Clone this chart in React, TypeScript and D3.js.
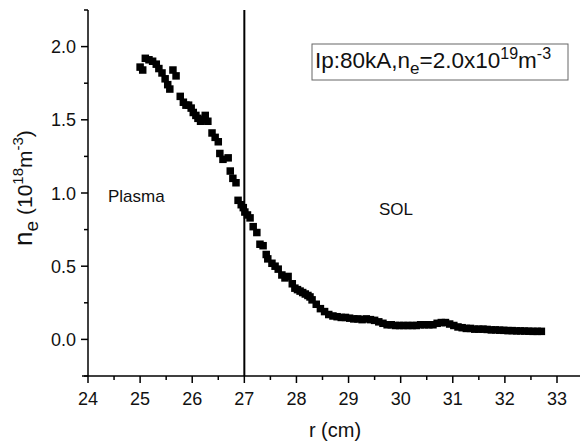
import React from "react";
import * as d3 from "d3";

const rValues = [
  25.00, 25.05, 25.10, 25.17, 25.24, 25.31, 25.36, 25.42, 25.48, 25.53,
  25.57, 25.63, 25.69, 25.77, 25.83, 25.88, 25.93, 25.98, 26.02, 26.07,
  26.11, 26.16, 26.21, 26.25, 26.30, 26.38, 26.44, 26.50, 26.53, 26.59,
  26.69, 26.73, 26.78, 26.84, 26.88, 26.94, 26.98, 27.01, 27.06, 27.11,
  27.17, 27.24, 27.30, 27.36, 27.42, 27.45, 27.53, 27.59, 27.65, 27.72,
  27.78, 27.84, 27.92, 27.97, 28.02, 28.07, 28.12, 28.17, 28.22, 28.26,
  28.30, 28.38, 28.46, 28.54, 28.62, 28.70, 28.78, 28.86, 28.94, 29.02,
  29.10, 29.18, 29.26, 29.34, 29.42, 29.50, 29.58, 29.66, 29.74, 29.82,
  29.90, 29.98, 30.06, 30.14, 30.22, 30.30, 30.38, 30.46, 30.54, 30.62,
  30.70, 30.78, 30.86, 30.94, 31.02, 31.10, 31.18, 31.26, 31.34, 31.42,
  31.50, 31.58, 31.66, 31.74, 31.82, 31.90, 31.98, 32.06, 32.14, 32.22,
  32.30, 32.38, 32.46, 32.54, 32.62, 32.70,
];

const neValues = [
  1.86, 1.84, 1.92, 1.91, 1.90, 1.88, 1.85, 1.82, 1.78, 1.74,
  1.71, 1.84, 1.80, 1.66, 1.62, 1.60, 1.60, 1.58, 1.55, 1.53,
  1.51, 1.49, 1.50, 1.53, 1.49, 1.41, 1.38, 1.35, 1.27, 1.23,
  1.24, 1.15, 1.10, 1.07, 0.95, 0.92, 0.90, 0.87, 0.85, 0.83,
  0.77, 0.73, 0.65, 0.64, 0.58, 0.55, 0.52, 0.50, 0.48, 0.44,
  0.42, 0.43, 0.38, 0.35, 0.34, 0.33, 0.32, 0.31, 0.30, 0.29,
  0.27, 0.24, 0.21, 0.19, 0.17, 0.16, 0.155, 0.15, 0.15, 0.145,
  0.14, 0.14, 0.135, 0.14, 0.135, 0.13, 0.12, 0.11, 0.10, 0.10,
  0.095, 0.095, 0.095, 0.095, 0.095, 0.095, 0.10, 0.10, 0.10, 0.10,
  0.11, 0.115, 0.115, 0.105, 0.095, 0.085, 0.08, 0.075, 0.075, 0.07,
  0.07, 0.07, 0.068, 0.065, 0.065, 0.063, 0.062, 0.06, 0.06, 0.058,
  0.058, 0.057, 0.056, 0.055, 0.055, 0.055,
];

const xTicks = [24, 25, 26, 27, 28, 29, 30, 31, 32, 33];
const xMinor = [24.5, 25.5, 26.5, 27.5, 28.5, 29.5, 30.5, 31.5, 32.5, 33.5];
const yTicks = [0.0, 0.5, 1.0, 1.5, 2.0];
const yMinor = [-0.25, 0.25, 0.75, 1.25, 1.75, 2.25];
const boundaryR = 27;

const W = 580;
const H = 444;
const FONT = "'Liberation Sans', Arial, sans-serif";

export default function App() {
  const x = d3.scaleLinear().domain([24, 33]).range([88, 557]);
  const y = d3.scaleLinear().domain([-0.25, 2.25]).range([376, 10]);
  const x0 = x(24);
  const yb = y(-0.25);
  const size = 7.5;

  return (
    <svg
      width={W}
      height={H}
      style={{ position: "absolute", left: 0, top: 0, background: "#fff" }}
      fontFamily={FONT}
    >
      <rect width={W} height={H} fill="#fff" />
      {/* data markers */}
      {rValues.map((r, i) => (
        <rect
          key={i}
          x={x(r) - size / 2}
          y={y(neValues[i]) - size / 2}
          width={size}
          height={size}
          fill="#000"
        />
      ))}
      {/* boundary line */}
      <line x1={x(boundaryR)} x2={x(boundaryR)} y1={y(2.25)} y2={yb} stroke="#000" strokeWidth={2} />
      {/* axes */}
      <line x1={x0} x2={x0} y1={y(2.25)} y2={yb} stroke="#000" strokeWidth={1.5} />
      <line x1={x0 - 6} x2={580} y1={yb} y2={yb} stroke="#000" strokeWidth={1.5} />
      {xTicks.map((t) => (
        <g key={"xt" + t}>
          <line x1={x(t)} x2={x(t)} y1={yb} y2={yb + 7} stroke="#000" strokeWidth={1.5} />
          <text x={x(t)} y={yb + 29} textAnchor="middle" fontSize={18} fill="#111">
            {t}
          </text>
        </g>
      ))}
      {xMinor.map((t) => (
        <line key={"xm" + t} x1={x(t)} x2={x(t)} y1={yb} y2={yb + 4} stroke="#000" strokeWidth={1.5} />
      ))}
      {yTicks.map((t) => (
        <g key={"yt" + t}>
          <line x1={x0 - 7} x2={x0} y1={y(t)} y2={y(t)} stroke="#000" strokeWidth={1.5} />
          <text x={x0 - 12} y={y(t) + 6.5} textAnchor="end" fontSize={18} fill="#111">
            {t.toFixed(1)}
          </text>
        </g>
      ))}
      {yMinor.map((t) => (
        <line key={"ym" + t} x1={x0 - 4} x2={x0} y1={y(t)} y2={y(t)} stroke="#000" strokeWidth={1.5} />
      ))}
      {/* axis titles */}
      <text x={335} y={437} textAnchor="middle" fontSize={20} fill="#111">
        r (cm)
      </text>
      <g transform="translate(32,188) rotate(-90)">
        <text textAnchor="middle" fill="#111">
          <tspan fontSize={26}>n</tspan>
          <tspan fontSize={19} dy={6}>e</tspan>
          <tspan fontSize={21} dy={-6}> (10</tspan>
          <tspan fontSize={15} dy={-9}>18</tspan>
          <tspan fontSize={21} dy={9}>m</tspan>
          <tspan fontSize={15} dy={-9}>-3</tspan>
          <tspan fontSize={21} dy={9}>)</tspan>
        </text>
      </g>
      {/* region labels */}
      <text x={108} y={202} fontSize={17} fill="#111">Plasma</text>
      <text x={379} y={215} fontSize={17} fill="#111">SOL</text>
      {/* annotation box */}
      <rect x={312} y={44} width={256} height={36} fill="#fff" stroke="#666" strokeWidth={1} />
      <text x={315} y={68} fontSize={22.5} fill="#111">
        <tspan>Ip:80kA,n</tspan>
        <tspan fontSize={17} dy={6}>e</tspan>
        <tspan dy={-6}>=2.0x10</tspan>
        <tspan fontSize={16} dy={-9}>19</tspan>
        <tspan dy={9}>m</tspan>
        <tspan fontSize={16} dy={-9}>-3</tspan>
      </text>
    </svg>
  );
}
